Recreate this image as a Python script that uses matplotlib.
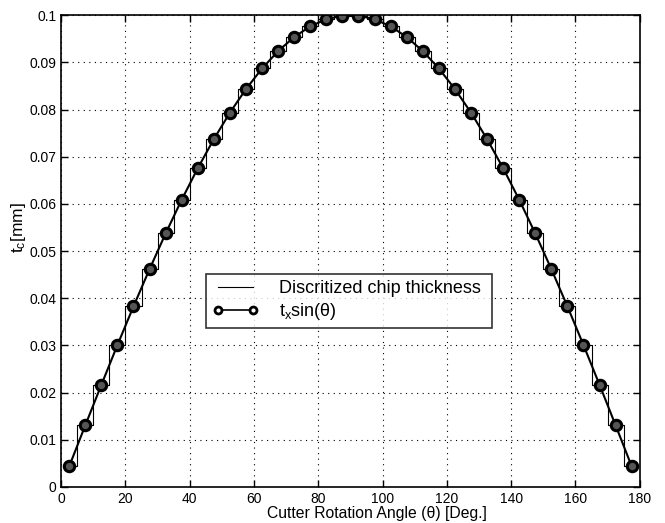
import numpy as np
import matplotlib
matplotlib.use("Agg")
import matplotlib.pyplot as plt
from matplotlib.lines import Line2D

plt.rcParams['font.family'] = ['Liberation Sans', 'DejaVu Sans']
plt.rcParams['mathtext.fontset'] = 'custom'
plt.rcParams['mathtext.rm'] = 'Liberation Sans'
plt.rcParams['mathtext.it'] = 'Liberation Sans'

angles = [2.5, 7.5, 12.5, 17.5, 22.5, 27.5, 32.5, 37.5, 42.5, 47.5, 52.5, 57.5,
          62.5, 67.5, 72.5, 77.5, 82.5, 87.5, 92.5, 97.5, 102.5, 107.5, 112.5,
          117.5, 122.5, 127.5, 132.5, 137.5, 142.5, 147.5, 152.5, 157.5, 162.5,
          167.5, 172.5, 177.5]
thickness = [0.00436, 0.01305, 0.02164, 0.03007, 0.03827, 0.04617, 0.05373,
             0.06088, 0.06756, 0.07373, 0.07934, 0.08434, 0.08870, 0.09239,
             0.09537, 0.09763, 0.09914, 0.09990, 0.09990, 0.09914, 0.09763,
             0.09537, 0.09239, 0.08870, 0.08434, 0.07934, 0.07373, 0.06756,
             0.06088, 0.05373, 0.04617, 0.03827, 0.03007, 0.02164, 0.01305,
             0.00436]
xticks = [0, 20, 40, 60, 80, 100, 120, 140, 160, 180]
yticks = [0, 0.01, 0.02, 0.03, 0.04, 0.05, 0.06, 0.07, 0.08, 0.09, 0.1]
yticklabels = ['0', '0.01', '0.02', '0.03', '0.04', '0.05', '0.06', '0.07',
               '0.08', '0.09', '0.1']

fig = plt.figure(figsize=(6.65, 5.23), dpi=100)
ax = fig.add_axes([0.092, 0.069, 0.870, 0.902])

ax.plot(angles, thickness, drawstyle='steps-mid', color='black', lw=0.8)
ax.plot(angles, thickness, color='black', lw=1.5, marker='o', ms=7.5,
        mfc='#555555', mec='black', mew=2.2)

ax.set_xlim(0, 180)
ax.set_ylim(0, 0.1)
ax.set_xticks(xticks)
ax.set_yticks(yticks)
ax.set_yticklabels(yticklabels)
ax.tick_params(direction='in', length=5, labelsize=10, top=True, right=True,
               width=1)
ax.grid(True, linestyle=(0, (1, 4)), color='black', lw=0.8)
for s in ax.spines.values():
    s.set_linewidth(1.2)

ax.set_xlabel('Cutter Rotation Angle (θ) [Deg.]', fontsize=11.3)
ax.xaxis.set_label_coords(0.546, -0.041, transform=ax.transAxes)
ax.set_ylabel(r't$_\mathregular{c}$[mm]', fontsize=12.5)
ax.yaxis.set_label_coords(-0.057, 0.549, transform=ax.transAxes)

h1 = Line2D([], [], color='black', lw=0.8)
h2 = Line2D([], [], color='black', lw=1.2, marker='o', ms=5, mfc='white',
            mec='black', mew=2.0)
leg = ax.legend([h1, h2], ['Discritized chip thickness ', r't$_\mathregular{x}$sin(θ)'],
                loc='upper left', bbox_to_anchor=(0.250, 0.451), fontsize=13,
                frameon=True, fancybox=False, edgecolor='black', numpoints=2,
                borderpad=0.35, handlelength=2.55, handletextpad=1.15,
                labelspacing=0.2, borderaxespad=0)
leg.get_frame().set_linewidth(1.2)

fig.savefig('out.png', dpi=100)
